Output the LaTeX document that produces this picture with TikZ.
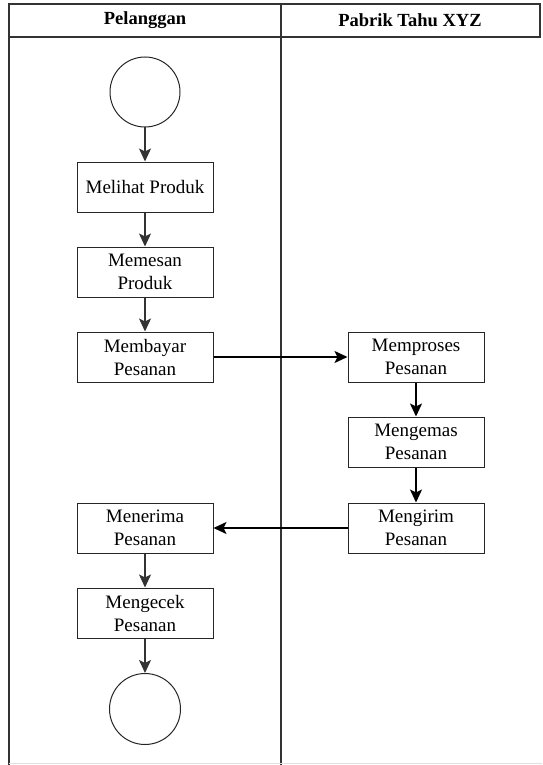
\documentclass[tikz,border=0pt]{standalone}
\usepackage{fontspec}
\setmainfont{Liberation Serif}
\usetikzlibrary{arrows.meta}
\begin{document}
\begin{tikzpicture}[x=1pt,y=-1pt,
  stepbox/.style={draw=black!85,line width=1pt,minimum width=136pt,minimum height=50pt,
    align=center,font=\fontsize{19}{23}\selectfont,inner sep=2pt},
  terminal/.style={draw=black!85,line width=1pt,circle,minimum size=70pt,inner sep=0pt},
  flowL/.style={draw=black!80,line width=1.2pt,-{Stealth[length=13pt,width=12pt,inset=3pt]}},
  flowR/.style={draw=black,line width=1.8pt,-{Stealth[length=13pt,width=12pt,inset=3pt]}},
  lane/.style={draw=black!80,line width=1.3pt},
  head/.style={font=\bfseries\fontsize{18.5}{22}\selectfont}]
\useasboundingbox (0,0) rectangle (542,765);

% swimlane frame
\draw[lane] (9,4) rectangle (540,37);
\draw[lane] (9,37) -- (9,765);
\draw[lane] (281,4) -- (281,765);
\draw[black!12,line width=1pt] (9,763) -- (542,763);
\node[head] (h1) at (145,20) {Pelanggan};
\node[head] (h2) at (410,20) {Pabrik Tahu XYZ};

% customer lane
\node[terminal] (start) at (145,92) {};
\node[stepbox] (lihat) at (145,187) {Melihat Produk};
\node[stepbox] (pesan) at (145,272) {Memesan\\Produk};
\node[stepbox] (bayar) at (145,357) {Membayar\\Pesanan};
\node[stepbox] (terima) at (145,528) {Menerima\\Pesanan};
\node[stepbox] (cek) at (145,613) {Mengecek\\Pesanan};
\node[terminal,minimum size=71pt] (end) at (145,709) {};

% factory lane
\node[stepbox] (proses) at (416,357) {Memproses\\Pesanan};
\node[stepbox] (kemas) at (416,442) {Mengemas\\Pesanan};
\node[stepbox] (kirim) at (416,528) {Mengirim\\Pesanan};

% flow
\draw[flowL] (start) -- (lihat);
\draw[flowL] (lihat) -- (pesan);
\draw[flowL] (pesan) -- (bayar);
\draw[flowR] (bayar) -- (proses);
\draw[flowR] (proses) -- (kemas);
\draw[flowR] (kemas) -- (kirim);
\draw[flowR] (kirim) -- (terima);
\draw[flowL] (terima) -- (cek);
\draw[flowL] (cek) -- (end);
\end{tikzpicture}
\end{document}
